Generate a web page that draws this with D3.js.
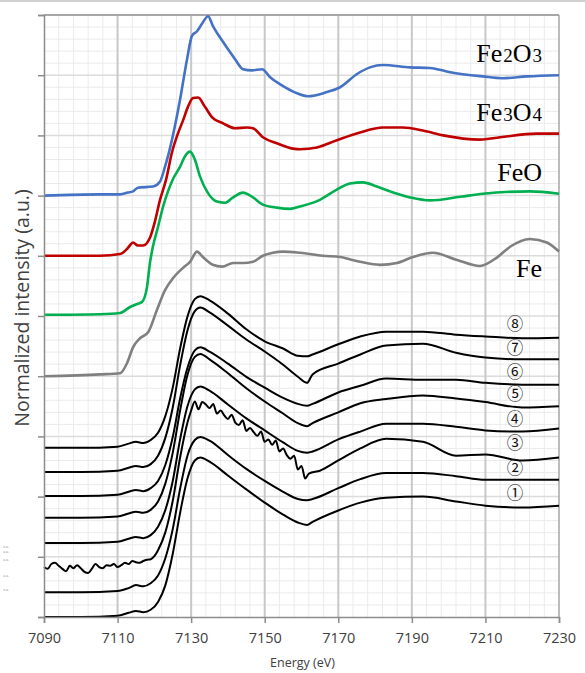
<!DOCTYPE html>
<html>
<head>
<meta charset="utf-8">
<script src="https://cdn.jsdelivr.net/npm/d3@7"></script>
<style>
  body { margin: 0; background: #fff; }
  .tick text { font-family: "Open Sans", sans-serif; fill: #404040; }
</style>
</head>
<body>
<div class="chart"></div>
<script>
const svgWidth = 585;
const svgHeight = 673;

const margin = { top: 15, right: 26, bottom: 56, left: 44 };
const width = svgWidth - margin.left - margin.right;
const height = svgHeight - margin.top - margin.bottom;

// x ticks (eV)
const energyTicks = [7090, 7110, 7130, 7150, 7170, 7190, 7210, 7230];

// reference spectra (energy, intensity above own baseline)
const refNames = ["Fe2O3", "Fe3O4", "FeO", "Fe"];
const refOffsets = [7, 6, 5, 4];

const fe2o3E = [7090, 7105.2, 7110.7, 7112.8, 7114.2, 7115.5, 7119.6, 7121.5, 7122.9, 7124.8, 7127.0, 7128.9, 7130.2, 7131.6, 7132.9, 7134.6, 7135.9, 7138.7, 7141.9, 7144.1, 7146.5, 7149.3, 7151.4, 7155.0, 7158.8, 7161.8, 7166.9, 7170.5, 7175.1, 7178.6, 7182.1, 7189.5, 7194.9, 7200.4, 7209.3, 7214.5, 7221.3, 7230];
const fe2o3Y = [0, 0.02, 0.02, 0.05, 0.07, 0.13, 0.15, 0.23, 0.48, 0.93, 1.60, 2.27, 2.65, 2.73, 2.85, 2.98, 2.82, 2.55, 2.27, 2.10, 2.08, 2.10, 1.97, 1.82, 1.70, 1.65, 1.72, 1.80, 2.02, 2.13, 2.17, 2.13, 2.12, 2.05, 1.98, 1.95, 1.98, 2.00];

const fe3o4E = [7090, 7105.2, 7110.7, 7112.8, 7114.2, 7115.5, 7116.9, 7118.8, 7120.2, 7121.5, 7123.2, 7124.8, 7126.4, 7127.8, 7129.1, 7130.5, 7131.9, 7133.8, 7135.7, 7138.7, 7141.9, 7145.2, 7146.8, 7149.5, 7153.3, 7157.7, 7159.6, 7164.2, 7169.6, 7175.9, 7182.1, 7187.6, 7193.0, 7198.5, 7208.5, 7214.0, 7224.0, 7230];
const fe3o4Y = [0, 0, 0.03, 0.13, 0.22, 0.17, 0.17, 0.30, 0.58, 0.92, 1.27, 1.72, 2.03, 2.25, 2.47, 2.62, 2.63, 2.47, 2.30, 2.20, 2.12, 2.13, 2.12, 1.97, 1.87, 1.78, 1.77, 1.80, 1.92, 2.05, 2.13, 2.13, 2.08, 2.00, 1.93, 1.97, 2.03, 2.03];

const feoE = [7090, 7105.2, 7110.7, 7113.4, 7115.3, 7116.6, 7118.0, 7118.8, 7119.6, 7121.0, 7122.3, 7123.7, 7125.1, 7127.0, 7128.3, 7129.7, 7131.0, 7132.4, 7134.3, 7137.0, 7139.2, 7141.4, 7144.1, 7146.8, 7149.5, 7153.3, 7156.9, 7159.6, 7165.0, 7169.6, 7173.2, 7176.7, 7180.5, 7184.9, 7189.5, 7194.9, 7203.1, 7209.3, 7222.1, 7230];
const feoY = [0.02, 0.03, 0.05, 0.15, 0.20, 0.23, 0.48, 0.88, 1.15, 1.48, 1.80, 2.07, 2.28, 2.48, 2.65, 2.73, 2.60, 2.32, 2.07, 1.90, 1.88, 1.97, 2.05, 1.97, 1.85, 1.80, 1.78, 1.82, 1.93, 2.10, 2.20, 2.22, 2.15, 2.05, 1.97, 1.92, 1.98, 2.03, 2.07, 2.03];

const feE = [7090, 7105.2, 7110.7, 7112.6, 7114.2, 7116.1, 7118.3, 7120.7, 7122.9, 7125.1, 7127.8, 7129.7, 7131.6, 7133.2, 7135.9, 7138.4, 7141.4, 7144.1, 7146.8, 7149.5, 7152.2, 7155.0, 7159.6, 7165.8, 7170.5, 7175.9, 7181.3, 7185.9, 7190.3, 7195.7, 7202.3, 7208.5, 7213.1, 7216.7, 7222.1, 7226.7, 7230];
const feY = [0, 0.03, 0.05, 0.22, 0.48, 0.63, 0.73, 1.10, 1.43, 1.63, 1.80, 1.90, 2.07, 1.98, 1.85, 1.82, 1.88, 1.88, 1.90, 2.00, 2.05, 2.07, 2.05, 2.00, 1.98, 1.90, 1.85, 1.88, 1.98, 2.05, 1.93, 1.83, 1.97, 2.15, 2.28, 2.22, 2.07];

// sample spectra 1..8
const sampleLabels = ["①", "②", "③", "④", "⑤", "⑥", "⑦", "⑧"];
const sampleOffsets = [0, 0.41, 0.83, 1.23, 1.65, 2.01, 2.41, 2.81];

const sampleE = [7090, 7100, 7110, 7113, 7115, 7117, 7119, 7121, 7123, 7125, 7127, 7129, 7131, 7132.5, 7135, 7140, 7145, 7150, 7155, 7159, 7161.5, 7163, 7170, 7176, 7183, 7193, 7202, 7210, 7220, 7230];
const s1 = [0, 0, 0.02, 0.07, 0.10, 0.08, 0.12, 0.25, 0.53, 1.05, 1.73, 2.30, 2.60, 2.65, 2.58, 2.35, 2.12, 1.90, 1.70, 1.57, 1.53, 1.58, 1.77, 1.90, 1.98, 2.00, 1.92, 1.85, 1.82, 1.85];
const s2 = [0, 0, 0.02, 0.07, 0.12, 0.10, 0.15, 0.28, 0.57, 1.05, 1.72, 2.27, 2.53, 2.58, 2.52, 2.28, 2.05, 1.85, 1.67, 1.55, 1.53, 1.55, 1.73, 1.88, 1.98, 1.98, 1.93, 1.87, 1.87, 1.87];
const s4 = [0, 0, 0.02, 0.07, 0.10, 0.08, 0.13, 0.27, 0.55, 1.03, 1.72, 2.27, 2.55, 2.60, 2.53, 2.30, 2.07, 1.87, 1.67, 1.53, 1.50, 1.52, 1.72, 1.85, 1.98, 1.98, 1.93, 1.87, 1.85, 1.90];
const s5 = [0, 0, 0.02, 0.07, 0.10, 0.08, 0.13, 0.27, 0.57, 1.08, 1.78, 2.37, 2.67, 2.72, 2.63, 2.40, 2.15, 1.93, 1.73, 1.57, 1.52, 1.57, 1.75, 1.90, 1.97, 2.03, 1.98, 1.92, 1.83, 1.85];
const s6 = [0, 0, 0.02, 0.07, 0.10, 0.08, 0.13, 0.25, 0.52, 0.98, 1.62, 2.13, 2.42, 2.47, 2.40, 2.20, 1.98, 1.80, 1.63, 1.53, 1.50, 1.53, 1.72, 1.83, 1.95, 1.93, 1.93, 1.88, 1.85, 1.85];
const s7 = [0, 0, 0.02, 0.07, 0.10, 0.08, 0.13, 0.27, 0.57, 1.07, 1.77, 2.35, 2.67, 2.73, 2.65, 2.43, 2.20, 2.00, 1.78, 1.58, 1.48, 1.62, 1.80, 1.95, 2.10, 2.13, 1.98, 1.90, 1.87, 1.87];
const s8 = [0, 0, 0.02, 0.07, 0.10, 0.08, 0.13, 0.25, 0.53, 1.00, 1.65, 2.18, 2.47, 2.52, 2.45, 2.23, 1.97, 1.77, 1.65, 1.53, 1.52, 1.55, 1.72, 1.85, 1.93, 1.93, 1.88, 1.85, 1.82, 1.83];

// sample 3 is the noisy one, read on a finer grid
const s3E = [7090, 7091, 7092, 7093, 7094, 7095, 7096, 7097, 7098, 7099, 7100, 7101, 7102, 7103, 7104, 7105, 7106, 7107, 7108, 7109, 7110, 7111, 7112, 7113, 7114, 7115, 7116, 7117, 7118, 7119, 7120,
  7121, 7123, 7125, 7127, 7129,
  7130, 7131, 7132, 7133, 7134, 7135, 7136, 7137, 7138, 7139, 7140, 7141, 7142, 7143, 7144, 7145, 7146, 7147, 7148, 7149, 7150, 7151, 7152, 7153, 7154, 7155, 7156, 7157, 7158, 7159, 7160, 7161, 7162,
  7165, 7170, 7176, 7183, 7193, 7202, 7210, 7220, 7230];
const s3 = [0, -0.03, 0.05, 0.07, 0.02, -0.03, -0.07, 0.02, -0.02, 0.03, -0.02, -0.08, -0.10, -0.03, 0.05, 0, -0.02, 0.03, 0.02, 0.05, 0, 0.03, 0.07, 0.05, 0.10, 0.08, 0.07, 0.10, 0.12, 0.13, 0.18,
  0.28, 0.58, 1.10, 1.82, 2.40,
  2.60, 2.75, 2.62, 2.74, 2.70, 2.64, 2.71, 2.55, 2.60, 2.52, 2.46, 2.53, 2.40, 2.36, 2.44, 2.26, 2.31, 2.24, 2.18, 2.25, 2.08, 2.12, 2.03, 2.10, 1.92, 1.97, 1.86, 1.80, 1.85, 1.62, 1.68, 1.47, 1.55,
  1.60, 1.77, 1.97, 2.13, 2.08, 1.85, 1.87, 1.77, 1.82];

const refColors = ["#4472c4", "#c00000", "#00b050", "#808080"];

// build series
const refSeries = [
  { name: refNames[0], e: fe2o3E, v: fe2o3Y, off: refOffsets[0], color: refColors[0] },
  { name: refNames[1], e: fe3o4E, v: fe3o4Y, off: refOffsets[1], color: refColors[1] },
  { name: refNames[2], e: feoE, v: feoY, off: refOffsets[2], color: refColors[2] },
  { name: refNames[3], e: feE, v: feY, off: refOffsets[3], color: refColors[3] }
];
const sampleValues = [s1, s2, s3, s4, s5, s6, s7, s8];
const sampleSeries = sampleValues.map((v, i) => ({
  name: sampleLabels[i],
  e: i === 2 ? s3E : sampleE,
  v: v,
  off: sampleOffsets[i]
}));

const toPoints = s => s.e.map((e, i) => [e, s.v[i] + s.off]);

// SVG wrapper
const svg = d3.select(".chart")
  .append("svg")
  .attr("width", svgWidth)
  .attr("height", svgHeight);

// thin frame line at the very top of the picture
svg.append("line")
  .attr("x1", 0).attr("x2", svgWidth)
  .attr("y1", 1).attr("y2", 1)
  .attr("stroke", "#d0d0d0")
  .attr("stroke-width", 2);

const chartGroup = svg.append("g")
  .attr("transform", `translate(${margin.left}, ${margin.top})`);

const x = d3.scaleLinear().domain([7090, 7230]).range([0, width]);
const y = d3.scaleLinear().domain([0, 10]).range([height, 0]);

// minor grid
chartGroup.append("g")
  .selectAll("line")
  .data(d3.range(7094, 7230, 4).filter(d => (d - 7090) % 20 !== 0))
  .enter().append("line")
  .attr("x1", d => x(d)).attr("x2", d => x(d))
  .attr("y1", 0).attr("y2", height)
  .attr("stroke", "#ebebeb").attr("stroke-width", 1);

chartGroup.append("g")
  .selectAll("line")
  .data(d3.range(1, 50).filter(d => d % 5 !== 0).map(d => d / 5))
  .enter().append("line")
  .attr("x1", 0).attr("x2", width)
  .attr("y1", d => y(d)).attr("y2", d => y(d))
  .attr("stroke", "#ebebeb").attr("stroke-width", 1);

// major grid
chartGroup.append("g")
  .selectAll("line")
  .data(d3.range(1, 10))
  .enter().append("line")
  .attr("x1", 0).attr("x2", width)
  .attr("y1", d => y(d)).attr("y2", d => y(d))
  .attr("stroke", "#dcdcdc").attr("stroke-width", 1.5);

chartGroup.append("g")
  .selectAll("line")
  .data(energyTicks.slice(1, -1))
  .enter().append("line")
  .attr("x1", d => x(d)).attr("x2", d => x(d))
  .attr("y1", 0).attr("y2", height)
  .attr("stroke", "#c8c8c8").attr("stroke-width", 2);

// top and right border
chartGroup.append("line")
  .attr("x1", 0).attr("x2", width).attr("y1", 0).attr("y2", 0)
  .attr("stroke", "#a6a6a6").attr("stroke-width", 2);
chartGroup.append("line")
  .attr("x1", width).attr("x2", width).attr("y1", 0).attr("y2", height)
  .attr("stroke", "#a6a6a6").attr("stroke-width", 1.5);

// curves
const line = d3.line()
  .x(d => x(d[0]))
  .y(d => y(d[1]))
  .curve(d3.curveMonotoneX);

chartGroup.append("g")
  .selectAll("path")
  .data(sampleSeries)
  .enter().append("path")
  .attr("d", d => line(toPoints(d)))
  .attr("fill", "none")
  .attr("stroke", "#000")
  .attr("stroke-width", 2)
  .attr("stroke-linejoin", "round");

chartGroup.append("g")
  .selectAll("path")
  .data(refSeries)
  .enter().append("path")
  .attr("d", d => line(toPoints(d)))
  .attr("fill", "none")
  .attr("stroke", d => d.color)
  .attr("stroke-width", 2.6)
  .attr("stroke-linejoin", "round");

// axes
const bottomAxis = d3.axisBottom(x)
  .tickValues(energyTicks)
  .tickSize(6)
  .tickFormat(d3.format("d"));
const leftAxis = d3.axisLeft(y)
  .ticks(10)
  .tickSize(6)
  .tickFormat("");

const xAxis = chartGroup.append("g")
  .attr("transform", `translate(0, ${height})`)
  .call(bottomAxis);
xAxis.select(".domain").attr("stroke", "#8c8c8c").attr("stroke-width", 1.5);
xAxis.selectAll(".tick line").attr("stroke", "#8c8c8c").attr("stroke-width", 1.5);
xAxis.selectAll(".tick text")
  .attr("y", 16)
  .attr("font-size", "14.5px");

const yAxis = chartGroup.append("g").call(leftAxis);
yAxis.select(".domain").attr("stroke", "#8c8c8c").attr("stroke-width", 1.5);
yAxis.selectAll(".tick line").attr("stroke", "#8c8c8c").attr("stroke-width", 1.5);

// axis titles
svg.append("text")
  .attr("x", margin.left + width / 2 + 1)
  .attr("y", 667)
  .attr("text-anchor", "middle")
  .attr("font-family", "'Open Sans', sans-serif")
  .attr("font-size", "12.5px")
  .attr("fill", "#404040")
  .text("Energy (eV)");

svg.append("text")
  .attr("transform", "translate(29, 308) rotate(-90)")
  .attr("text-anchor", "middle")
  .attr("font-family", "'Open Sans', sans-serif")
  .attr("font-size", "19.5px")
  .attr("fill", "#404040")
  .text("Normalized intensity (a.u.)");

// clipped legend remains at the far left
const strayRows = [548, 553, 561, 577, 591];
svg.append("g")
  .selectAll("text")
  .data(strayRows)
  .enter().append("text")
  .attr("x", 9).attr("y", d => d)
  .attr("text-anchor", "end")
  .attr("font-family", "'Liberation Serif', serif")
  .attr("font-size", "4px")
  .attr("fill", "#9a9a9a")
  .text("a.u.");

// reference labels, digits drawn smaller
const refLabelShift = [-13, -13, -13, 25];
refSeries.forEach((s, i) => {
  const last = s.v[s.v.length - 1] + s.off;
  const t = chartGroup.append("text")
    .attr("x", 498)
    .attr("y", y(last) + refLabelShift[i])
    .attr("text-anchor", "end")
    .attr("font-family", "'Liberation Serif', 'Times New Roman', serif")
    .attr("font-size", "26px")
    .attr("fill", "#000");
  s.name.match(/[A-Za-z]+|\d+/g).forEach(part => {
    const sp = t.append("tspan").text(part);
    if (/\d/.test(part)) sp.attr("font-size", "19px").attr("dx", 1);
  });
});

// sample labels, one step above each baseline
chartGroup.append("g")
  .selectAll("text")
  .data(sampleSeries)
  .enter().append("text")
  .attr("x", 471)
  .attr("y", d => y(d.off + 2.06))
  .attr("dy", "0.36em")
  .attr("text-anchor", "middle")
  .attr("font-family", "'Noto Sans CJK JP', sans-serif")
  .attr("font-size", "16.5px")
  .attr("fill", "#111")
  .text(d => d.name);
</script>
</body>
</html>
